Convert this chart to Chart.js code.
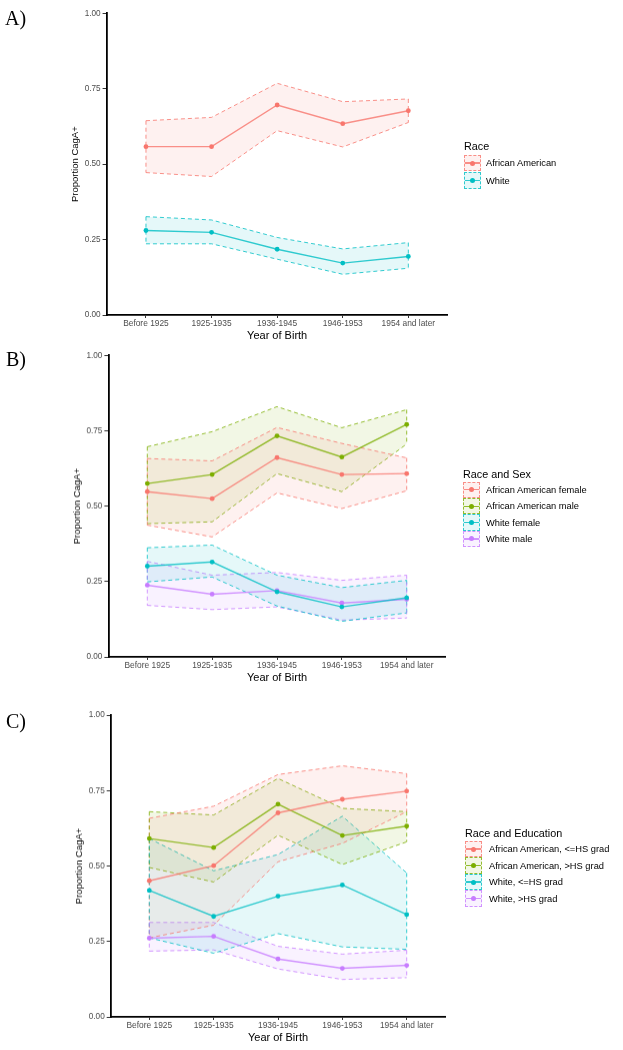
<!DOCTYPE html>
<html><head><meta charset="utf-8">
<script src="https://cdn.jsdelivr.net/npm/chart.js@4.4.1/dist/chart.umd.min.js"></script>
<style>
html,body{margin:0;padding:0;background:#fff;}
body{width:623px;height:1050px;position:relative;overflow:hidden;font-family:"Liberation Sans",Arial,sans-serif;}
canvas{position:absolute;left:0;}
.plab{position:absolute;font-family:"Liberation Serif","Times New Roman",serif;font-size:20px;color:#000;line-height:20px;transform:translateY(-50%);}
.lg-title{position:absolute;font-size:10.8px;color:#000;white-space:nowrap;line-height:12px;transform:translateY(-50%);}
.lg-lab{position:absolute;font-size:9.3px;color:#000;white-space:nowrap;line-height:11px;transform:translateY(-50%);}
.lg-key{position:absolute;box-sizing:border-box;border:1px dashed;}
.lg-key .ln{position:absolute;left:0;right:0;top:50%;height:1.3px;margin-top:-0.65px;}
.lg-key .dt{position:absolute;left:50%;top:50%;width:5px;height:5px;margin:-2.5px 0 0 -2.5px;border-radius:50%;}
</style>
</head><body>
<canvas id="cA"></canvas>
<canvas id="cB"></canvas>
<canvas id="cC"></canvas>
<div class="plab" style="left:5px;top:17.5px">A)</div>
<div class="plab" style="left:6px;top:358.5px">B)</div>
<div class="plab" style="left:6px;top:721px">C)</div>
<script>
// ---------- data ----------
const categories = ['Before 1925', '1925-1935', '1936-1945', '1946-1953', '1954 and later'];
const yTickValues = [0, 0.25, 0.5, 0.75, 1];
const xTitle = 'Year of Birth';
const yTitle = 'Proportion CagA+';

// Panel A: Race
const raceLegendTitle = 'Race';
const raceNames = ['African American', 'White'];
const raceAAMean = [0.558, 0.558, 0.696, 0.634, 0.677];
const raceAALow  = [0.472, 0.459, 0.611, 0.557, 0.638];
const raceAAHigh = [0.644, 0.655, 0.768, 0.707, 0.716];
const raceWMean  = [0.280, 0.274, 0.218, 0.172, 0.194];
const raceWLow   = [0.236, 0.236, 0.185, 0.135, 0.155];
const raceWHigh  = [0.326, 0.315, 0.257, 0.219, 0.240];

// Panel B: Race and Sex
const sexLegendTitle = 'Race and Sex';
const sexNames = ['African American female', 'African American male', 'White female', 'White male'];
const aafMean = [0.548, 0.525, 0.661, 0.605, 0.608];
const aafLow  = [0.437, 0.398, 0.544, 0.492, 0.551];
const aafHigh = [0.658, 0.650, 0.761, 0.708, 0.660];
const aamMean = [0.575, 0.605, 0.733, 0.663, 0.771];
const aamLow  = [0.442, 0.448, 0.608, 0.548, 0.706];
const aamHigh = [0.697, 0.747, 0.830, 0.760, 0.820];
const wfMean  = [0.301, 0.315, 0.216, 0.166, 0.196];
const wfLow   = [0.249, 0.265, 0.169, 0.118, 0.146];
const wfHigh  = [0.362, 0.371, 0.271, 0.230, 0.254];
const wmMean  = [0.238, 0.208, 0.220, 0.179, 0.191];
const wmLow   = [0.171, 0.157, 0.166, 0.122, 0.129];
const wmHigh  = [0.317, 0.271, 0.280, 0.254, 0.271];

// Panel C: Race and Education
const eduLegendTitle = 'Race and Education';
const eduNames = ['African American, <=HS grad', 'African American, >HS grad', 'White, <=HS grad', 'White, >HS grad'];
const aaLeMean = [0.451, 0.501, 0.676, 0.721, 0.748];
const aaLeLow  = [0.262, 0.304, 0.514, 0.575, 0.680];
const aaLeHigh = [0.658, 0.698, 0.803, 0.832, 0.806];
const aaGtMean = [0.591, 0.561, 0.705, 0.601, 0.632];
const aaGtLow  = [0.495, 0.447, 0.602, 0.505, 0.580];
const aaGtHigh = [0.680, 0.669, 0.790, 0.691, 0.680];
const wLeMean  = [0.419, 0.333, 0.400, 0.437, 0.339];
const wLeLow   = [0.262, 0.211, 0.276, 0.232, 0.224];
const wLeHigh  = [0.591, 0.484, 0.538, 0.665, 0.477];
const wGtMean  = [0.261, 0.267, 0.192, 0.161, 0.171];
const wGtLow   = [0.218, 0.222, 0.159, 0.124, 0.130];
const wGtHigh  = [0.313, 0.313, 0.234, 0.208, 0.221];

// ---------- styles ----------
const hue2 = ['#F8766D', '#00BFC4'];
const hue4 = ['#F8766D', '#7CAE00', '#00BFC4', '#C77CFF'];
function rgba(hex, a) {
  const n = parseInt(hex.slice(1), 16);
  return 'rgba(' + ((n >> 16) & 255) + ',' + ((n >> 8) & 255) + ',' + (n & 255) + ',' + a + ')';
}
const pts = arr => arr.map((v, i) => ({x: i, y: v}));

const ribbonEdges = {
  id: 'ribbonEdges',
  beforeDatasetsDraw(chart) {
    const {ctx, scales: {x, y}} = chart;
    ctx.save();
    chart.data.datasets.forEach(ds => {
      if (!ds.ribbonHigh) return;
      ctx.strokeStyle = ds.borderColor;
      ctx.lineWidth = 1;
      ctx.setLineDash([4, 3]);
      [0, categories.length - 1].forEach(i => {
        const px = x.getPixelForValue(i);
        ctx.beginPath();
        ctx.moveTo(px, y.getPixelForValue(ds.ribbonHigh[i]));
        ctx.lineTo(px, y.getPixelForValue(ds.ribbonLow[i]));
        ctx.stroke();
      });
    });
    ctx.restore();
  }
};

function makePanel(id, top, geo, groups) {
  const cv = document.getElementById(id);
  const H = geo.bottom + 30;
  cv.width = 623; cv.height = H;
  cv.style.top = top + 'px';
  cv.style.width = '623px'; cv.style.height = H + 'px';
  const datasets = [];
  groups.forEach((g, k) => {
    const idx = datasets.length;
    datasets.push({
      data: pts(g.high), ribbonHigh: g.high, ribbonLow: g.low,
      borderColor: rgba(g.color, 0.8), borderWidth: 1, borderDash: [4, 3],
      backgroundColor: rgba(g.color, 0.1), fill: '+1',
      pointRadius: 0, tension: 0, order: 10 + k
    });
    datasets.push({
      data: pts(g.low),
      borderColor: rgba(g.color, 0.8), borderWidth: 1, borderDash: [4, 3],
      fill: false, pointRadius: 0, tension: 0, order: 10 + k
    });
  });
  groups.forEach(g => {
    datasets.push({
      data: pts(g.mean),
      borderColor: rgba(g.color, 0.8), borderWidth: 1.4, fill: false,
      pointRadius: 2.4, pointBackgroundColor: g.color, pointBorderWidth: 0,
      tension: 0, order: 0
    });
  });
  new Chart(cv, {
    type: 'line',
    data: {datasets},
    plugins: [ribbonEdges],
    options: {
      responsive: false, animation: false, devicePixelRatio: 1,
      layout: {padding: {left: 0, top: geo.top, right: 623 - geo.right, bottom: 0}},
      plugins: {legend: {display: false}, tooltip: {enabled: false}},
      scales: {
        x: {
          type: 'linear', min: -0.6, max: categories.length - 0.4,
          afterBuildTicks: s => { s.ticks = categories.map((c, i) => ({value: i})); },
          afterFit: s => { s.height = 30; },
          ticks: {
            autoSkip: false, maxRotation: 0, padding: 1,
            color: '#4D4D4D', font: {family: 'Liberation Sans', size: 8.4},
            callback: v => categories[v]
          },
          grid: {drawOnChartArea: false, drawTicks: true, tickLength: 3, tickColor: '#333', tickWidth: 1},
          border: {display: true, color: '#000', width: 1.8},
          title: {display: true, text: xTitle, color: '#000',
                  font: {family: 'Liberation Sans', size: 11}, padding: {top: 0, bottom: 2.9}}
        },
        y: {
          type: 'linear', min: 0, max: 1,
          afterBuildTicks: s => { s.ticks = yTickValues.map(v => ({value: v})); },
          afterFit: s => { s.width = geo.left; },
          ticks: {
            padding: 2, color: '#4D4D4D', font: {family: 'Liberation Sans', size: 8.2},
            callback: v => v.toFixed(2)
          },
          grid: {drawOnChartArea: false, drawTicks: true, tickLength: 4, tickColor: '#333', tickWidth: 1},
          border: {display: true, color: '#000', width: 1.8},
          title: {display: true, text: yTitle, color: '#000',
                  font: {family: 'Liberation Sans', size: 9.5}, padding: {top: geo.ytitle - 5.7, bottom: 0}}
        }
      }
    }
  });
}

function makeLegend(title, names, colors, lg) {
  const t = document.createElement('div');
  t.className = 'lg-title'; t.textContent = title;
  t.style.left = lg.x + 'px'; t.style.top = lg.titleY + 'px';
  document.body.appendChild(t);
  names.forEach((n, i) => {
    const cy = lg.y0 + i * lg.dy;
    const key = document.createElement('div');
    key.className = 'lg-key';
    key.style.left = lg.x + 'px'; key.style.top = (cy - lg.k / 2) + 'px';
    key.style.width = lg.k + 'px'; key.style.height = (lg.k - 0.5) + 'px';
    key.style.borderColor = rgba(colors[i], 0.8);
    key.style.background = rgba(colors[i], 0.1);
    key.innerHTML = '<div class="ln" style="background:' + rgba(colors[i], 0.8) + '"></div><div class="dt" style="background:' + colors[i] + '"></div>';
    document.body.appendChild(key);
    const l = document.createElement('div');
    l.className = 'lg-lab'; l.textContent = n;
    l.style.left = lg.tx + 'px'; l.style.top = cy + 'px';
    document.body.appendChild(l);
  });
}

// Panel A
makePanel('cA', 0, {left: 106.6, right: 447.7, top: 13.3, bottom: 315, ytitle: 75}, [
  {mean: raceAAMean, low: raceAALow, high: raceAAHigh, color: hue2[0]},
  {mean: raceWMean, low: raceWLow, high: raceWHigh, color: hue2[1]}
]);
makeLegend(raceLegendTitle, raceNames, hue2, {x: 464, titleY: 146, y0: 163.3, dy: 17.4, k: 17, tx: 486});

// Panel B
makePanel('cB', 340, {left: 108.4, right: 445.6, top: 15.3, bottom: 316.7, ytitle: 77}, [
  {mean: aafMean, low: aafLow, high: aafHigh, color: hue4[0]},
  {mean: aamMean, low: aamLow, high: aamHigh, color: hue4[1]},
  {mean: wfMean, low: wfLow, high: wfHigh, color: hue4[2]},
  {mean: wmMean, low: wmLow, high: wmHigh, color: hue4[3]}
]);
makeLegend(sexLegendTitle, sexNames, hue4, {x: 463, titleY: 474, y0: 490, dy: 16.4, k: 17, tx: 486});

// Panel C
makePanel('cC', 700, {left: 110.7, right: 445.3, top: 15, bottom: 316.7, ytitle: 79}, [
  {mean: aaLeMean, low: aaLeLow, high: aaLeHigh, color: hue4[0]},
  {mean: aaGtMean, low: aaGtLow, high: aaGtHigh, color: hue4[1]},
  {mean: wLeMean, low: wLeLow, high: wLeHigh, color: hue4[2]},
  {mean: wGtMean, low: wGtLow, high: wGtHigh, color: hue4[3]}
]);
makeLegend(eduLegendTitle, eduNames, hue4, {x: 465, titleY: 832.7, y0: 849.3, dy: 16.5, k: 17, tx: 489});
</script>
</body></html>
